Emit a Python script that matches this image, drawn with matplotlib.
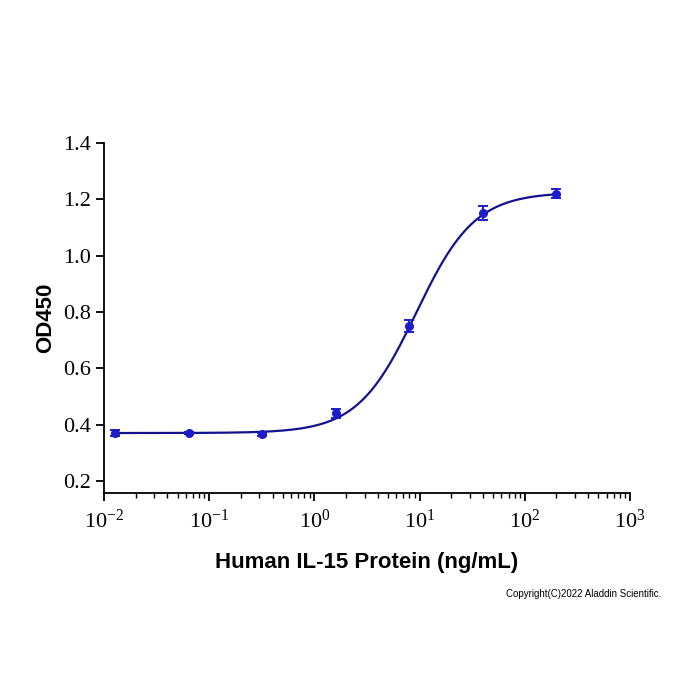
import numpy as np
import matplotlib
matplotlib.use("Agg")
import matplotlib.pyplot as plt
from matplotlib.ticker import LogLocator, FixedLocator

plt.rcParams["mathtext.fontset"] = "custom"
plt.rcParams["mathtext.rm"] = "Liberation Serif"
plt.rcParams["mathtext.it"] = "Liberation Serif:italic"
plt.rcParams["mathtext.bf"] = "Liberation Serif:bold"

# Data
conc = [0.0128, 0.064, 0.32, 1.6, 8, 40, 200]
od450 = [0.37, 0.37, 0.365, 0.44, 0.75, 1.15, 1.22]
od_err = [0.012, 0.005, 0.004, 0.015, 0.02, 0.025, 0.017]
# 4PL fit parameters (bottom, top, EC50, hill)
fit_bottom, fit_top, fit_ec50, fit_hill = 0.37, 1.225, 9.3, 1.56

yticks = [0.2, 0.4, 0.6, 0.8, 1.0, 1.2, 1.4]
ytick_labels = ["0.2", "0.4", "0.6", "0.8", "1.0", "1.2", "1.4"]
xticks = [1e-2, 1e-1, 1e0, 1e1, 1e2, 1e3]
xtick_labels = ["$\\mathrm{10^{-2}}$", "$\\mathrm{10^{-1}}$", "$\\mathrm{10^{0}}$",
                "$\\mathrm{10^{1}}$", "$\\mathrm{10^{2}}$", "$\\mathrm{10^{3}}$"]

fig = plt.figure(figsize=(7, 7), dpi=100)
ax = fig.add_axes([104/700, 1-493/700, (630-104)/700, (493-143)/700])

xs = np.logspace(np.log10(conc[0]), np.log10(conc[-1]), 400)
ys = fit_bottom + (fit_top - fit_bottom) / (1 + (fit_ec50 / xs) ** fit_hill)
ax.plot(xs, ys, color="#12128f", lw=1.6, zorder=2)
ax.errorbar(conc, od450, yerr=od_err, fmt="o", color="#1c1cc8", ecolor="#1c1cc8",
            ms=5.5, elinewidth=1.4, capsize=3.5, capthick=1.4, zorder=3)

ax.set_xscale("log")
ax.set_xlim(1e-2, 1e3)
ax.set_ylim(0.157, 1.4)
ax.spines["top"].set_visible(False)
ax.spines["right"].set_visible(False)
for s in ("left", "bottom"):
    ax.spines[s].set_linewidth(1.3)

ax.xaxis.set_major_locator(FixedLocator(xticks))
ax.set_xticklabels(xtick_labels)
ax.xaxis.set_minor_locator(LogLocator(base=10, subs=np.arange(2, 10), numticks=20))
ax.set_yticks(yticks)
ax.set_yticklabels(ytick_labels)

ax.tick_params(which="major", direction="out", length=6, width=1.3, labelsize=16, colors="black")
ax.tick_params(which="minor", direction="out", length=3.5, width=1.0)
for lab in ax.get_xticklabels() + ax.get_yticklabels():
    lab.set_fontfamily("Liberation Serif")
ax.tick_params(axis="x", pad=6)

ax.set_xlabel("Human IL-15 Protein (ng/mL)", fontsize=16, fontweight="bold",
              fontfamily="Liberation Sans", labelpad=14)
ax.set_ylabel("OD450", fontsize=16, fontweight="bold", fontfamily="Liberation Sans", labelpad=5)

fig.text(0.945, 0.151, "Copyright(C)2022 Aladdin Scientific.", fontsize=7,
         fontfamily="Liberation Sans", ha="right", va="center")

fig.savefig("out.png", dpi=100, facecolor="white")
